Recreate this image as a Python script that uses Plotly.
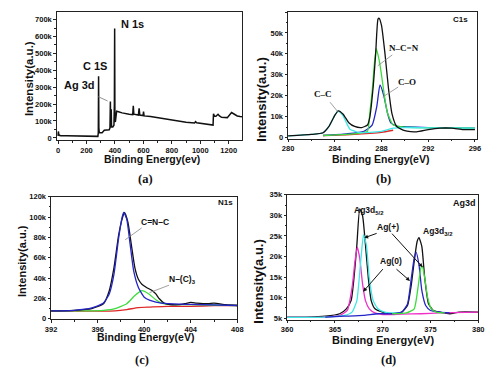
import plotly.graph_objects as go

# ---------------- data (intensities in thousands of counts) ----------------
survey_x = [0, 2, 5, 8, 20, 60, 100, 150, 200, 250, 280, 283, 285, 287, 290, 310, 325, 360, 365, 368,
            370, 372, 374, 376, 385, 393, 396, 398, 400, 403, 407, 412, 425, 450, 500, 525, 529, 533,
            565, 570, 575, 598, 601, 605, 650, 700, 750, 800, 850, 900, 960, 967, 975, 1000, 1050,
            1085, 1090, 1093, 1100, 1110, 1125, 1135, 1150, 1190, 1205, 1220, 1240, 1260, 1280, 1300]
survey_y = [12, 38, 25, 15, 13, 12, 11, 10, 9, 9, 9, 30, 365, 60, 32, 30, 45, 48, 60, 215,
            70, 60, 170, 65, 65, 75, 200, 648, 100, 95, 135, 158, 155, 148, 140, 138, 190, 140,
            135, 175, 135, 132, 155, 130, 127, 120, 112, 104, 98, 92, 88, 96, 89, 86, 80,
            74, 76, 142, 128, 128, 140, 130, 122, 120, 135, 150, 140, 130, 127, 125]

c1s_x_black = [280, 282, 283, 283.5, 284, 284.3, 284.7, 285.2, 285.7, 286.3, 286.8, 287.0, 287.3, 287.5,
               287.7, 287.8, 288.0, 288.3, 288.6, 288.9, 289.3, 290, 291, 292, 293, 294, 295, 296]
c1s_y_black = [0.8, 1.5, 2.3, 5.3, 10.6, 12.8, 11.3, 7.1, 5.3, 4.8, 6.0, 9.8, 25, 40,
               56.6, 57, 53.6, 40, 23.4, 11.3, 5.3, 3.3, 2.7, 3.8, 4.5, 4.5, 3.8, 3.8]
c1s_x_cyan = [280, 282, 283, 283.5, 284, 284.3, 284.7, 285.0, 285.3, 286, 287, 288, 289, 290, 293, 296]
c1s_y_cyan = [0.8, 1.5, 2.3, 5.3, 10.6, 12.8, 10.5, 7.0, 4.0, 2.5, 2.5, 3.0, 4.5, 4.8, 4.6, 4.5]
c1s_x_green = [283, 285, 286, 286.8, 287.0, 287.2, 287.4, 287.55, 287.8, 288.0, 288.3, 288.5, 289, 290, 291, 296]
c1s_y_green = [1.0, 1.5, 2.0, 3.0, 12, 22, 36, 42.5, 37, 30, 18, 12, 6, 5, 4.8, 4.5]
c1s_x_blue = [283, 285, 286.5, 287.2, 287.6, 287.87, 288.2, 288.5, 288.8, 289.3, 290, 292, 296]
c1s_y_blue = [1.0, 1.8, 3.0, 6.0, 15, 25.2, 20, 12, 7, 5.5, 5.2, 4.8, 4.5]
c1s_x_red = [283, 285, 287, 288, 289]
c1s_y_red = [1.0, 1.3, 2.0, 2.5, 3.5]

n1s_x_black = [392, 394, 395.5, 396.5, 397, 397.4, 397.8, 398.1, 398.3, 398.6, 398.9, 399.2, 399.5, 399.8,
               400.2, 400.7, 401.0, 401.3, 401.7, 402.2, 403, 403.5, 404, 404.5, 405.5, 406, 407, 408]
n1s_y_black = [7.7, 8.3, 10, 14.8, 27.6, 50, 82, 98, 104.6, 95, 72.5, 50, 38.8, 34,
               30.8, 27.6, 24.4, 19.6, 15.4, 14, 13.8, 14.8, 16, 15.4, 14.8, 15.4, 13.8, 13]
n1s_x_blue = [392, 394, 395.5, 396.5, 397, 397.4, 397.8, 398.1, 398.25, 398.5, 398.8, 399.1, 399.5,
              400, 400.5, 401, 402, 404, 408]
n1s_y_blue = [7.7, 8.3, 10.6, 15.4, 24.4, 43.6, 79, 99.8, 104.6, 98, 72.5, 46.8, 30.8,
              21.2, 18, 16.4, 14.8, 14.1, 13]
n1s_x_green = [392, 395, 396.5, 397.5, 398.5, 399.2, 399.8, 400.4, 401, 401.5, 402, 404, 408]
n1s_y_green = [7.7, 7.7, 8.3, 10, 14.8, 22.8, 27.6, 24.4, 18.6, 15.4, 14.1, 13.8, 13]
n1s_x_red = [392, 396, 397.5, 398.5, 399.5, 400.5, 402, 404, 406, 408]
n1s_y_red = [7.4, 7.4, 7.7, 9, 11, 11.5, 12.2, 12.2, 12.8, 13]

ag_x_black = [360, 362, 364, 365.5, 366.2, 366.7, 367.0, 367.3, 367.6, 367.9, 368.2, 368.5, 368.8, 369.2,
              370, 371, 372, 372.6, 373.0, 373.3, 373.6, 373.8, 374.1, 374.4, 374.8, 375.3, 376, 377, 378, 380]
ag_y_black = [5.3, 5.3, 5.5, 6.1, 7.3, 9.3, 14.8, 22.8, 31.6, 29.9, 22.8, 14.8, 9.3, 7.3,
              6.5, 6.1, 6.5, 8.1, 13.2, 18.8, 23.6, 24.6, 22.4, 14.8, 8.5, 6.9, 6.5, 6.1, 6.5, 6.5]
ag_x_magenta = [360, 364, 365.5, 366.3, 366.8, 367.1, 367.35, 367.6, 367.9, 368.2, 368.6, 369.2,
                370, 371, 372, 374, 376, 380]
ag_y_magenta = [5.2, 5.3, 5.7, 6.9, 12.5, 18.8, 22.3, 19.6, 13.3, 9.3, 7.3, 6.3,
                5.9, 5.9, 6.0, 6.1, 6.3, 6.5]
ag_x_cyan = [360, 364, 366, 366.8, 367.3, 367.7, 368.0, 368.3, 368.6, 369.0, 369.5, 370.2, 371, 372]
ag_y_cyan = [5.2, 5.3, 5.7, 6.5, 9.3, 18.8, 25.3, 22.8, 14.8, 9.3, 7.3, 6.5, 6.3, 6.3]
ag_x_blue = [364, 366, 368, 369.5, 371, 372, 372.6, 373.0, 373.3, 373.5, 373.8, 374.1, 374.5, 375, 376, 377]
ag_y_blue = [5.3, 5.5, 5.7, 6.1, 6.1, 6.5, 8.5, 14.8, 19.6, 21, 18, 11.7, 8.1, 6.9, 6.5, 6.3]
ag_x_green = [371, 372.5, 373.3, 373.7, 374.0, 374.15, 374.4, 374.7, 375.1, 375.6, 376.5]
ag_y_green = [6.1, 6.3, 7.3, 12.5, 17.2, 17.6, 14.8, 10.1, 7.3, 6.5, 6.3]

# tick labels
a_xticks = [0, 200, 400, 600, 800, 1000, 1200]
a_yticks = [0, 100, 200, 300, 400, 500, 600, 700]
a_ylabels = ["0", "100k", "200k", "300k", "400k", "500k", "600k", "700k"]
b_xticks = [280, 284, 288, 292, 296]
b_yticks = [0, 10, 20, 30, 40, 50, 60]
b_ylabels = ["0", "10k", "20k", "30k", "40k", "50k", "60k"]
c_xticks = [392, 396, 400, 404, 408]
c_yticks = [0, 20, 40, 60, 80, 100, 120]
c_ylabels = ["0", "20k", "40k", "60k", "80k", "100k", "120k"]
d_xticks = [360, 365, 370, 375, 380]
d_yticks = [5, 10, 15, 20, 25, 30, 35]
d_ylabels = ["5k", "10k", "15k", "20k", "25k", "30k", "35k"]

# ---------------- styling ----------------
# the page body has an 8px margin, so the figure is 486x360 and all
# positions below are given in window pixels, shifted by that margin.
OFF = 8
W, H = 502 - 2 * OFF, 376 - 2 * OFF
def PX(x): return min(1.0, max(0.0, (x - OFF) / W))
def PY(y): return min(1.0, max(0.0, 1 - (y - OFF) / H))

BLACK = "#111111"
CYAN = "#3fe6e6"
GREEN = "#3ddc3d"
BLUE = "#2424c8"
RED = "#e02626"
MAGENTA = "#ee30c8"
SANS = "Arial, Liberation Sans"
SERIF = "Times New Roman, Liberation Serif"

fig = go.Figure()

def add(x, y, color, ax, w=1.3):
    fig.add_trace(go.Scatter(x=x, y=y, mode="lines", line=dict(color=color, width=w, shape="spline", smoothing=0.5),
                             xaxis="x" + ax, yaxis="y" + ax, showlegend=False, hoverinfo="skip"))

fig.add_trace(go.Scatter(x=survey_x, y=survey_y, mode="lines", line=dict(color=BLACK, width=1.5),
                         xaxis="x", yaxis="y", showlegend=False, hoverinfo="skip"))

add(c1s_x_red, c1s_y_red, RED, "2")
add(c1s_x_blue, c1s_y_blue, BLUE, "2")
add(c1s_x_green, c1s_y_green, GREEN, "2")
add(c1s_x_cyan, c1s_y_cyan, CYAN, "2")
add(c1s_x_black, c1s_y_black, BLACK, "2")

add(n1s_x_red, n1s_y_red, RED, "3")
add(n1s_x_green, n1s_y_green, GREEN, "3")
add(n1s_x_black, n1s_y_black, BLACK, "3")
add(n1s_x_blue, n1s_y_blue, BLUE, "3")

add(ag_x_black, ag_y_black, BLACK, "4")
add(ag_x_magenta, ag_y_magenta, MAGENTA, "4")
add(ag_x_cyan, ag_y_cyan, CYAN, "4")
add(ag_x_blue, ag_y_blue, BLUE, "4")
add(ag_x_green, ag_y_green, GREEN, "4")

def axis(domain, rng, tickvals, ticktext=None, anchor=None, minor_dtick=None, lw=1):
    d = dict(domain=domain, range=rng, showline=True, mirror=True, linecolor="#222", linewidth=lw,
             ticks="outside", ticklen=2.5, tickwidth=1, tickcolor="#222", showgrid=False, zeroline=False,
             tickmode="array", tickvals=tickvals, ticktext=ticktext if ticktext else [str(v) for v in tickvals],
             tickfont=dict(family=SANS, size=7.5, color="#111", weight="bold"), anchor=anchor, ticklabelstandoff=0)
    if minor_dtick:
        d["minor"] = dict(ticks="outside", ticklen=1.5, tickcolor="#222", tickmode="linear",
                          tick0=tickvals[0], dtick=minor_dtick)
    return d

fig.update_layout(
    width=W, height=H, margin=dict(l=0, r=0, t=0, b=0), autosize=False,
    paper_bgcolor="white", plot_bgcolor="white",
    xaxis=axis([PX(52), PX(242)], [-8, 1295], a_xticks, anchor="y", minor_dtick=100, lw=1.3),
    yaxis=axis([PY(139), PY(8)], [-13, 745], a_yticks, a_ylabels, anchor="x", minor_dtick=50, lw=1.3),
    xaxis2=axis([PX(289), PX(483)], [280, 296.2], b_xticks, anchor="y2", minor_dtick=2),
    yaxis2=axis([PY(137.5), PY(8)], [-0.5, 60], b_yticks, b_ylabels, anchor="x2", minor_dtick=5),
    xaxis3=axis([PX(46), PX(237)], [392, 408], c_xticks, anchor="y3", minor_dtick=2),
    yaxis3=axis([PY(322), PY(197)], [-0.3, 120], c_yticks, c_ylabels, anchor="x3", minor_dtick=10),
    xaxis4=axis([PX(288), PX(484)], [360, 380], d_xticks, anchor="y4", minor_dtick=2.5),
    yaxis4=axis([PY(322.5), PY(195)], [4.7, 35], d_yticks, d_ylabels, anchor="x4", minor_dtick=2.5),
)

def text(x, y, s, size, family=SANS, angle=0, color="#111"):
    fig.add_annotation(x=PX(x), y=PY(y), xref="paper", yref="paper", text=s, showarrow=False,
                       textangle=angle, xanchor="center", yanchor="middle",
                       font=dict(family=family, size=size, color=color, weight="bold"))

def arrow(tail, head, color="#888", head_style=0, width=0.8):
    fig.add_annotation(x=PX(head[0]), y=PY(head[1]), xref="paper", yref="paper", text="",
                       showarrow=True, ax=tail[0] - head[0], ay=tail[1] - head[1],
                       arrowhead=head_style, arrowsize=0.8, arrowwidth=width, arrowcolor=color)

# axis titles
text(24, 76, "Intensity(a.u.)", 11.5, angle=-90)
text(261, 97, "Intensity(a.u.)", 13, angle=-90)
text(17, 263, "Intensity(a.u.)", 11, angle=-90)
text(259, 283, "Intensity(a.u.)", 13, angle=-90)
text(149, 158, "Binding Energy(ev)", 10.5)
text(384, 158, "Binding Energy(eV)", 10.5)
text(142.5, 340, "Binding Energy(eV)", 10.5)
text(386, 343, "Binding Energy(eV)", 11)

# panel labels
text(143, 179, "(a)", 12.5, family=SERIF)
text(387, 179, "(b)", 12.5, family=SERIF)
text(139.5, 364, "(c)", 12.5, family=SERIF)
text(392, 364, "(d)", 12.5, family=SERIF)

# panel (a) labels
text(129, 20, "N 1s", 11)
text(91.5, 63, "C 1S", 11)
text(75, 83, "Ag 3d", 11)
arrow((93, 94), (104, 99), color="#777")

# panel (b)
text(466, 16, "C1s", 8)
text(408, 45, "N–C=N", 9, family=SERIF)
text(411, 80, "C–O", 9, family=SERIF)
text(325, 92, "C–C", 9, family=SERIF)
arrow((397, 51), (381, 63))
arrow((403, 84), (386, 95))
arrow((331, 99), (340, 110))

# panel (c)
text(225, 203, "N1s", 8)
text(153, 223, "C=N–C", 8.5)
text(181, 282, "N–(C)<sub>3</sub>", 8.5)
arrow((140, 228), (122, 241))
arrow((168, 287), (147, 295))

# panel (d)
text(470, 203, "Ag3d", 9)
text(372, 211, "Ag3d<sub>5/2</sub>", 8.5)
text(391, 228, "Ag(+)", 8.5)
text(443, 232, "Ag3d<sub>3/2</sub>", 8.5)
text(395, 263, "Ag(0)", 8.5)
arrow((381, 234), (367, 239), color="#111", head_style=2, width=1)
arrow((395, 234), (427, 269), color="#111", head_style=2, width=1)
arrow((387, 270), (366, 294), color="#111", head_style=2, width=1)
arrow((399, 270), (414, 283), color="#111", head_style=2, width=1)

fig.write_html("out.html")
